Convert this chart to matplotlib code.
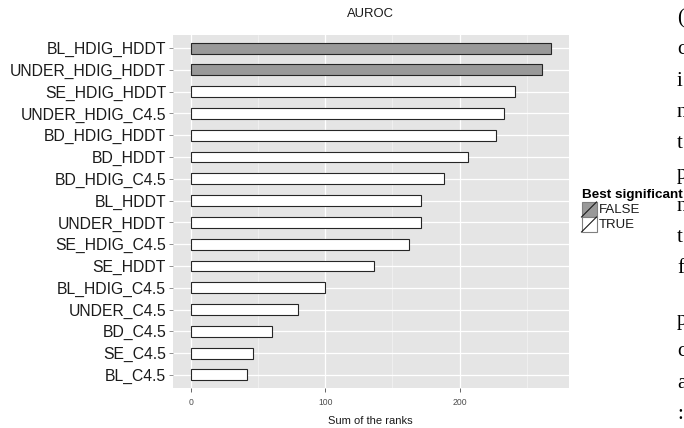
import numpy as np
import matplotlib
matplotlib.use("Agg")
from matplotlib import pyplot as plt
from matplotlib.patches import Rectangle
from matplotlib.lines import Line2D

# data, top to bottom as in the chart
methods = ['BL_HDIG_HDDT', 'UNDER_HDIG_HDDT', 'SE_HDIG_HDDT', 'UNDER_HDIG_C4.5',
           'BD_HDIG_HDDT', 'BD_HDDT', 'BD_HDIG_C4.5', 'BL_HDDT', 'UNDER_HDDT',
           'SE_HDIG_C4.5', 'SE_HDDT', 'BL_HDIG_C4.5', 'UNDER_C4.5', 'BD_C4.5',
           'SE_C4.5', 'BL_C4.5']
rank_sums = [268, 261, 241, 233, 227, 206, 188, 171, 171, 162, 136, 100, 80, 60, 46, 42]
best_significant = [False, False, True, True, True, True, True, True, True,
                    True, True, True, True, True, True, True]
xticks = [0, 100, 200]
title = 'AUROC'
xlabel = 'Sum of the ranks'
legend_title = 'Best significant'

# stray letters from the page the figure was cut out of
page_letters_top = ['(', 'c', 'i', 'n', 't', 'p', 'n', 't', 'f']
page_letters_bottom = ['p', 'c', 'a', ':']

W, H = 684, 428
fig = plt.figure(figsize=(W / 100, H / 100), dpi=100)
ax = fig.add_axes([173 / W, 1 - 388 / H, (569 - 173) / W, (388 - 35) / H])

ax.set_facecolor('#E5E5E5')
for s in ax.spines.values():
    s.set_visible(False)

ys = np.arange(len(methods))[::-1]
colors = ['#999999' if not b else 'white' for b in best_significant]
ax.barh(ys, rank_sums, height=0.5, color=colors, edgecolor='#262626',
        linewidth=0.8, zorder=3)

xmax = max(rank_sums)
pad = xmax * 0.05
ax.set_xlim(-pad, xmax + pad)
ax.set_ylim(-0.6, len(methods) - 0.4)

ax.set_xticks(xticks)
ax.set_xticks([50, 150, 250], minor=True)
ax.set_yticks(ys)
ax.set_yticklabels(methods, fontsize=11.3, color='#1a1a1a', family='Liberation Sans')
ax.tick_params(axis='x', labelsize=6.2, colors='#4d4d4d', length=3, width=0.6, pad=4)
ax.tick_params(axis='x', which='minor', length=0)
ax.tick_params(axis='y', colors='#7f7f7f', length=3, width=0.6, pad=2)
for t in ax.get_xticklabels():
    t.set_family('Liberation Sans')
for t in ax.get_yticklabels():
    t.set_color('#1a1a1a')

ax.grid(True, which='major', color='white', linewidth=0.9, zorder=0)
ax.grid(True, which='minor', axis='x', color='#F4F4F4', linewidth=0.5, zorder=0)
ax.set_axisbelow(True)

fig.text(370 / W, 1 - 14 / H, title, ha='center', va='center', fontsize=9.4,
         color='#1a1a1a', family='Liberation Sans')
fig.text(370 / W, 1 - 421 / H, xlabel, ha='center', va='center', fontsize=8,
         color='#1a1a1a', family='Liberation Sans')

# legend, ggplot style keys with a diagonal stroke
fig.text(582 / W, 1 - 195 / H, legend_title, ha='left', va='center', fontsize=9.7,
         fontweight='bold', family='Liberation Sans')
for i, (lab, fc) in enumerate([('FALSE', '#999999'), ('TRUE', 'white')]):
    top = 202 + i * 15
    x0, x1 = 581.5, 596.5
    y0, y1 = 1 - (top + 15) / H, 1 - top / H
    fig.add_artist(Rectangle((x0 / W, y0), (x1 - x0) / W, y1 - y0,
                             transform=fig.transFigure, facecolor=fc,
                             edgecolor='#7f7f7f', linewidth=0.8))
    fig.add_artist(Line2D([x0 / W, x1 / W], [y0, y1], transform=fig.transFigure,
                          color='#1a1a1a', linewidth=0.8))
    fig.text(599 / W, 1 - (top + 8) / H, lab, ha='left', va='center', fontsize=9.5,
             family='Liberation Sans', color='#1a1a1a')

for k, ch in enumerate(page_letters_top):
    fig.text(677 / W, 1 - (23 + 31.3 * k) / H, ch, ha='left', va='baseline',
             fontsize=15, family='Liberation Serif', color='black')
for k, ch in enumerate(page_letters_bottom):
    fig.text(677 / W, 1 - (325 + 31.3 * k) / H, ch, ha='left', va='baseline',
             fontsize=15, family='Liberation Serif', color='black')

fig.savefig('out.png', dpi=100)
